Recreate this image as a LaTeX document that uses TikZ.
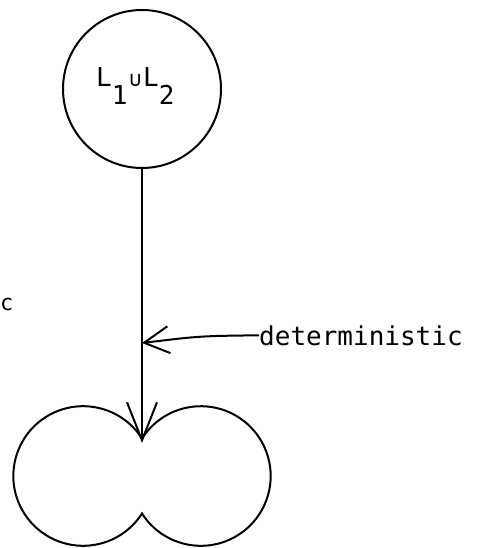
\documentclass[tikz,border=0pt]{standalone}
\usepackage{fontspec}
\setmonofont{DejaVu Sans Mono}
\usetikzlibrary{arrows.meta}
\begin{document}
\begin{tikzpicture}[x=1pt,y=1pt,
  ln/.style={line width=2pt},
  txt/.style={font=\ttfamily\fontsize{26}{30}\selectfont, inner sep=0pt},
  vtip/.style={-{Straight Barb[length=38pt,width=30pt,line width=2pt]}},
  htip/.style={-{Straight Barb[length=25pt,width=27pt,line width=2pt]}},
 ]
\useasboundingbox (0,0) rectangle (478,-548);
% top circle
\node[circle, draw, ln, minimum size=158pt, inner sep=0pt] (top) at (142,-89) {};
\node[txt, anchor=base west] (lab) at (96,-87) {L\raisebox{-18pt}{1}\makebox[0.602em]{\fontsize{21}{24}\selectfont ∪}L\raisebox{-18pt}{2}};
% bottom double circle
\coordinate (cusp) at (142,-438.5);
\draw[ln] (cusp) arc[start angle=32.5, end angle=327.5, radius=69.8]
  arc[start angle=212.5, end angle=507.5, radius=69.8] -- cycle;
\coordinate (tip) at (142,-443);
\draw[ln, vtip] (top.south) -- (tip);
% label
\node[txt, anchor=base west] (det) at (259,-345) {deterministic};
\coordinate (hit) at (142,-343);
\draw[ln, htip] (det.west) .. controls (200,-336) .. (hit);
% partial text at left
\node[txt, font=\ttfamily\fontsize{22}{24}\selectfont, anchor=base west] (c) at (0,-310) {c};
\end{tikzpicture}
\end{document}
